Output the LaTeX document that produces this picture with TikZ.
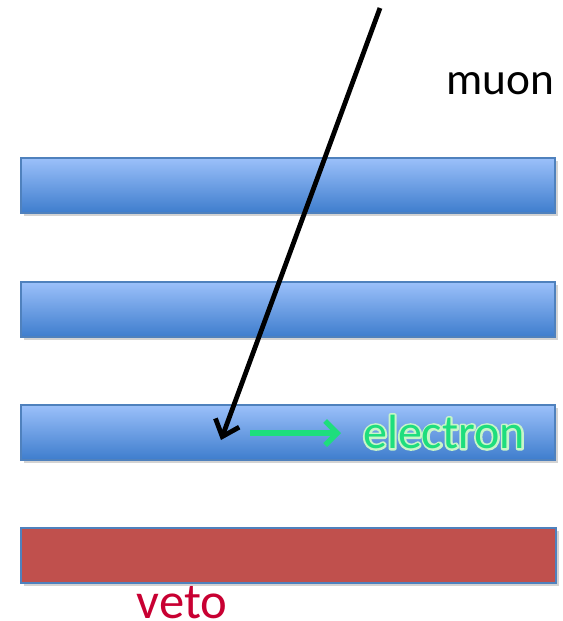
\documentclass[tikz,border=0pt]{standalone}
\usepackage{fontspec}
\setmainfont{Carlito}
\usetikzlibrary{arrows.meta,shadows}
\definecolor{bartop}{RGB}{155,192,250}
\definecolor{barbot}{RGB}{62,125,205}
\definecolor{barline}{RGB}{79,129,189}
\definecolor{vetofill}{RGB}{192,80,77}
\definecolor{vetotext}{RGB}{200,0,50}
\definecolor{elgreen}{RGB}{30,222,125}
\definecolor{glow}{RGB}{200,245,200}
\newcommand{\glowtext}[1]{\rlap{\textcolor{glow}{\special{pdf:code q 1 Tr 3 w 1 j}#1\special{pdf:code Q}}}\textcolor{elgreen}{#1}}
\tikzset{
  bar/.style={draw=barline, line width=1pt, top color=bartop, bottom color=barbot,
    drop shadow={shadow xshift=2pt, shadow yshift=-2pt, opacity=0.35}},
  vetobar/.style={draw=barline, line width=1pt, fill=vetofill,
    drop shadow={shadow xshift=2pt, shadow yshift=-2pt, opacity=0.35}},
  lbl/.style={inner sep=0pt, anchor=center}
}
\begin{document}
\begin{tikzpicture}[x=0.75pt,y=-0.75pt]
\useasboundingbox (0,0) rectangle (562,621);
\path[bar] (21,158) rectangle (555,213);
\path[bar] (21,282) rectangle (555,337);
\path[bar] (21,405) rectangle (555,460);
\path[vetobar] (21,528) rectangle (556,583);
\coordinate (mstart) at (380,8);
\coordinate (mend) at (221,440);
\draw[line width=3.6pt, -{Straight Barb[length=11pt,width=19pt,line width=3.6pt]}] (mstart) -- (mend);
\node[lbl, font=\fontsize{34}{34}\selectfont] (muon) at (500,84) {muon};
\coordinate (estart) at (250,433);
\coordinate (eend) at (341,433);
\draw[elgreen, line width=4pt, -{Straight Barb[length=9pt,width=18pt,line width=4pt]}] (estart) -- (eend);
\node[lbl, font=\fontsize{36}{36}\selectfont] (electron) at (444,432) {\glowtext{electron}};
\node[lbl, font=\fontsize{38}{38}\selectfont, text=vetotext] (veto) at (182,603) {veto};
\end{tikzpicture}
\end{document}
